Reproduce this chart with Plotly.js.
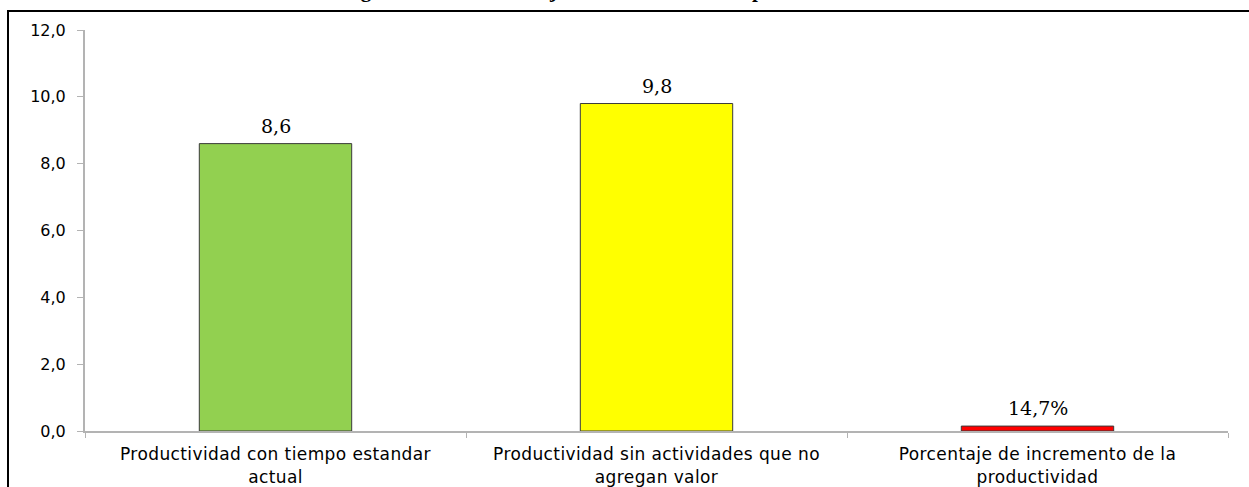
<!DOCTYPE html>
<html>
<head>
<meta charset="utf-8">
<script src="https://cdn.plot.ly/plotly-3.0.1.min.js"></script>
<style>
  html, body { margin: 0; padding: 0; background: #ffffff; overflow: hidden; }
  #wrap { position: relative; width: 1249px; height: 487px; }
  #chart { position: absolute; left: 0; top: 0; width: 1249px; height: 487px; }
  /* frame of the chart box, open on the right and bottom */
  #frame {
    position: absolute; left: 7px; top: 10px; width: 1300px; height: 600px;
    border-left: 2px solid #000; border-top: 2px solid #000;
    pointer-events: none; box-sizing: border-box;
  }
  /* slightly wider category labels */
  #chart .xtick text { letter-spacing: 0.4px; }
</style>
</head>
<body>
<div id="wrap">
  <div id="chart"></div>
  <div id="frame"></div>
</div>
<script>
// Categories shown on the x axis
const categories = [
  "Productividad con tiempo estandar<br>actual",
  "Productividad sin actividades que no<br>agregan valor",
  "Porcentaje de incremento de la<br>productividad"
];
// Bar values (the last one is a ratio: 0.147 = 14,7 %)
const values = [8.6, 9.8, 0.147];
// Labels printed above each bar
const valueLabels = ["8,6", "9,8", "14,7%"];
// Bar fill colours
const barColors = ["#92d050", "#ffff00", "#ff0000"];
// Y axis ticks
const yTicks = [0, 2, 4, 6, 8, 10, 12];
const yTickLabels = ["0,0", "2,0", "4,0", "6,0", "8,0", "10,0", "12,0"];
const chartTitle = "Figura N° 15: Porcentaje de incremento de la productividad";

const trace = {
  type: "bar",
  x: categories,
  y: values,
  marker: { color: barColors, line: { color: "#3a3a3a", width: 1 } },
  hoverinfo: "skip"
};

// value labels sit just above the top of each bar
const valueAnnotations = categories.map((c, i) => ({
  x: c,
  y: values[i],
  xref: "x", yref: "y",
  text: valueLabels[i],
  xanchor: "center", yanchor: "bottom",
  yshift: 5,
  showarrow: false,
  font: { family: "DejaVu Serif", size: 19, color: "#000000" }
}));

const layout = {
  width: 1249,
  height: 487,
  margin: { l: 85, r: 21, t: 30, b: 56 },
  paper_bgcolor: "#ffffff",
  plot_bgcolor: "#ffffff",
  showlegend: false,
  bargap: 0.6,
  separators: ",.",
  xaxis: {
    type: "category",
    showgrid: false,
    zeroline: false,
    showline: true,
    linecolor: "#b3b3b3",
    linewidth: 2,
    ticks: "outside",
    tickson: "boundaries",
    ticklen: 5,
    tickcolor: "#b3b3b3",
    tickwidth: 1,
    ticklabelstandoff: 7,
    tickfont: { family: "DejaVu Sans", size: 17, color: "#000000" },
    automargin: false
  },
  yaxis: {
    range: [0, 12],
    tickvals: yTicks,
    ticktext: yTickLabels,
    showgrid: false,
    zeroline: false,
    showline: true,
    linecolor: "#b3b3b3",
    linewidth: 2,
    ticks: "outside",
    ticklen: 6,
    tickcolor: "#b3b3b3",
    tickwidth: 1,
    ticklabelstandoff: 8,
    tickfont: { family: "DejaVu Sans", size: 16, color: "#000000" },
    automargin: false
  },
  annotations: valueAnnotations.concat([{
    text: "<b>" + chartTitle + "</b>",
    xref: "paper", yref: "paper",
    x: (340 - 85) / 1143, y: 1,
    xanchor: "left", yanchor: "bottom",
    yshift: 26,
    showarrow: false,
    font: { family: "Liberation Serif", size: 21, color: "#000000" }
  }])
};

Plotly.newPlot("chart", [trace], layout, { displayModeBar: false, staticPlot: true });
</script>
</body>
</html>
